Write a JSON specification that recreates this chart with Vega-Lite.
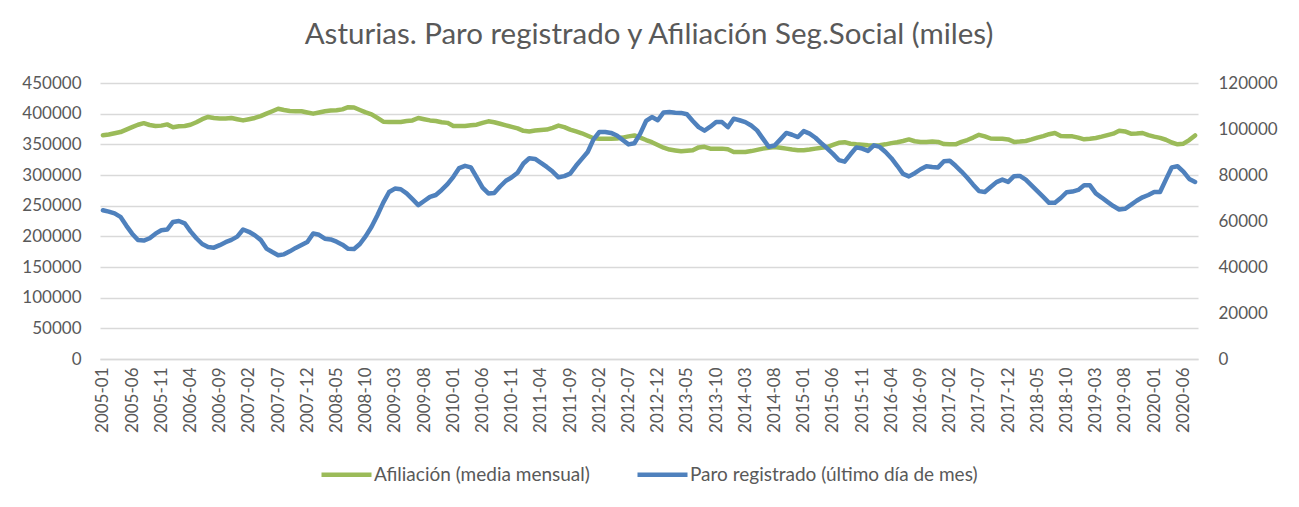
{
  "$schema": "https://vega.github.io/schema/vega-lite/v6.json",
  "width": 1098,
  "height": 276,
  "autosize": {"type": "none"},
  "padding": {"left": 100, "top": 83, "right": 101, "bottom": 148},
  "background": "white",
  "config": {
    "font": "Lato",
    "view": {"stroke": null},
    "axis": {"labelFont": "Lato", "labelColor": "#595959", "labelFontSize": 17, "ticks": false, "domain": false, "title": null}
  },
  "title": {
    "text": "Asturias. Paro registrado y Afiliación Seg.Social (miles)",
    "font": "Lato",
    "fontSize": 29.5,
    "fontWeight": "normal",
    "color": "#595959",
    "anchor": "middle",
    "frame": "group",
    "baseline": "alphabetic",
    "offset": 1
  },
  "data": {"values": [
    {"mes":"2005-01","afiliacion":364700,"paro":64700},
    {"mes":"2005-02","afiliacion":366000,"paro":64100},
    {"mes":"2005-03","afiliacion":368000,"paro":63300},
    {"mes":"2005-04","afiliacion":370000,"paro":61800},
    {"mes":"2005-05","afiliacion":374000,"paro":58000},
    {"mes":"2005-06","afiliacion":378000,"paro":54500},
    {"mes":"2005-07","afiliacion":382000,"paro":51700},
    {"mes":"2005-08","afiliacion":384500,"paro":51500},
    {"mes":"2005-09","afiliacion":381500,"paro":52500},
    {"mes":"2005-10","afiliacion":380000,"paro":54500},
    {"mes":"2005-11","afiliacion":380500,"paro":56000},
    {"mes":"2005-12","afiliacion":382500,"paro":56300},
    {"mes":"2006-01","afiliacion":378000,"paro":59600},
    {"mes":"2006-02","afiliacion":379500,"paro":60000},
    {"mes":"2006-03","afiliacion":380000,"paro":59000},
    {"mes":"2006-04","afiliacion":382000,"paro":55500},
    {"mes":"2006-05","afiliacion":386000,"paro":52500},
    {"mes":"2006-06","afiliacion":391000,"paro":50000},
    {"mes":"2006-07","afiliacion":394600,"paro":48700},
    {"mes":"2006-08","afiliacion":393000,"paro":48400},
    {"mes":"2006-09","afiliacion":392000,"paro":49500},
    {"mes":"2006-10","afiliacion":392000,"paro":50800},
    {"mes":"2006-11","afiliacion":393000,"paro":51800},
    {"mes":"2006-12","afiliacion":391000,"paro":53200},
    {"mes":"2007-01","afiliacion":389000,"paro":56300},
    {"mes":"2007-02","afiliacion":391000,"paro":55300},
    {"mes":"2007-03","afiliacion":393000,"paro":53800},
    {"mes":"2007-04","afiliacion":396000,"paro":51800},
    {"mes":"2007-05","afiliacion":400000,"paro":48000},
    {"mes":"2007-06","afiliacion":404000,"paro":46500},
    {"mes":"2007-07","afiliacion":408000,"paro":45100},
    {"mes":"2007-08","afiliacion":406000,"paro":45500},
    {"mes":"2007-09","afiliacion":404400,"paro":46800},
    {"mes":"2007-10","afiliacion":404000,"paro":48300},
    {"mes":"2007-11","afiliacion":404000,"paro":49600},
    {"mes":"2007-12","afiliacion":402000,"paro":50900},
    {"mes":"2008-01","afiliacion":400000,"paro":54600},
    {"mes":"2008-02","afiliacion":402000,"paro":54000},
    {"mes":"2008-03","afiliacion":404000,"paro":52300},
    {"mes":"2008-04","afiliacion":405000,"paro":52000},
    {"mes":"2008-05","afiliacion":405500,"paro":51000},
    {"mes":"2008-06","afiliacion":407000,"paro":49700},
    {"mes":"2008-07","afiliacion":410500,"paro":47900},
    {"mes":"2008-08","afiliacion":410000,"paro":47800},
    {"mes":"2008-09","afiliacion":406000,"paro":50000},
    {"mes":"2008-10","afiliacion":402000,"paro":53400},
    {"mes":"2008-11","afiliacion":399000,"paro":57500},
    {"mes":"2008-12","afiliacion":393000,"paro":62500},
    {"mes":"2009-01","afiliacion":387000,"paro":68000},
    {"mes":"2009-02","afiliacion":386500,"paro":72600},
    {"mes":"2009-03","afiliacion":386500,"paro":74100},
    {"mes":"2009-04","afiliacion":386500,"paro":73800},
    {"mes":"2009-05","afiliacion":388000,"paro":72000},
    {"mes":"2009-06","afiliacion":389000,"paro":69500},
    {"mes":"2009-07","afiliacion":393000,"paro":66900},
    {"mes":"2009-08","afiliacion":391000,"paro":68700},
    {"mes":"2009-09","afiliacion":389000,"paro":70500},
    {"mes":"2009-10","afiliacion":388000,"paro":71300},
    {"mes":"2009-11","afiliacion":386000,"paro":73500},
    {"mes":"2009-12","afiliacion":385000,"paro":76000},
    {"mes":"2010-01","afiliacion":380000,"paro":79200},
    {"mes":"2010-02","afiliacion":380000,"paro":83000},
    {"mes":"2010-03","afiliacion":380000,"paro":84000},
    {"mes":"2010-04","afiliacion":381000,"paro":83300},
    {"mes":"2010-05","afiliacion":382000,"paro":79000},
    {"mes":"2010-06","afiliacion":385000,"paro":74500},
    {"mes":"2010-07","afiliacion":387500,"paro":72000},
    {"mes":"2010-08","afiliacion":386000,"paro":72200},
    {"mes":"2010-09","afiliacion":383500,"paro":75000},
    {"mes":"2010-10","afiliacion":381000,"paro":77500},
    {"mes":"2010-11","afiliacion":378500,"paro":79000},
    {"mes":"2010-12","afiliacion":376000,"paro":81000},
    {"mes":"2011-01","afiliacion":372000,"paro":85000},
    {"mes":"2011-02","afiliacion":371000,"paro":87300},
    {"mes":"2011-03","afiliacion":372500,"paro":87000},
    {"mes":"2011-04","afiliacion":373500,"paro":85300},
    {"mes":"2011-05","afiliacion":374000,"paro":83500},
    {"mes":"2011-06","afiliacion":377000,"paro":81500},
    {"mes":"2011-07","afiliacion":380500,"paro":79000},
    {"mes":"2011-08","afiliacion":378000,"paro":79500},
    {"mes":"2011-09","afiliacion":374000,"paro":80600},
    {"mes":"2011-10","afiliacion":371000,"paro":84000},
    {"mes":"2011-11","afiliacion":368000,"paro":87000},
    {"mes":"2011-12","afiliacion":364000,"paro":90000},
    {"mes":"2012-01","afiliacion":360000,"paro":95500},
    {"mes":"2012-02","afiliacion":359000,"paro":98700},
    {"mes":"2012-03","afiliacion":359000,"paro":98700},
    {"mes":"2012-04","afiliacion":359000,"paro":98300},
    {"mes":"2012-05","afiliacion":359500,"paro":97200},
    {"mes":"2012-06","afiliacion":361000,"paro":95200},
    {"mes":"2012-07","afiliacion":363000,"paro":93300},
    {"mes":"2012-08","afiliacion":364500,"paro":93800},
    {"mes":"2012-09","afiliacion":361000,"paro":98000},
    {"mes":"2012-10","afiliacion":357000,"paro":103500},
    {"mes":"2012-11","afiliacion":353500,"paro":105200},
    {"mes":"2012-12","afiliacion":349000,"paro":103800},
    {"mes":"2013-01","afiliacion":344500,"paro":107200},
    {"mes":"2013-02","afiliacion":341500,"paro":107400},
    {"mes":"2013-03","afiliacion":340000,"paro":107100},
    {"mes":"2013-04","afiliacion":338600,"paro":107000},
    {"mes":"2013-05","afiliacion":339500,"paro":106400},
    {"mes":"2013-06","afiliacion":340500,"paro":103500},
    {"mes":"2013-07","afiliacion":345000,"paro":100800},
    {"mes":"2013-08","afiliacion":346000,"paro":99300},
    {"mes":"2013-09","afiliacion":343000,"paro":101000},
    {"mes":"2013-10","afiliacion":343000,"paro":103000},
    {"mes":"2013-11","afiliacion":343000,"paro":103000},
    {"mes":"2013-12","afiliacion":342000,"paro":100800},
    {"mes":"2014-01","afiliacion":337600,"paro":104500},
    {"mes":"2014-02","afiliacion":337600,"paro":103800},
    {"mes":"2014-03","afiliacion":337600,"paro":103000},
    {"mes":"2014-04","afiliacion":339000,"paro":101500},
    {"mes":"2014-05","afiliacion":341000,"paro":99400},
    {"mes":"2014-06","afiliacion":343000,"paro":95800},
    {"mes":"2014-07","afiliacion":344500,"paro":92300},
    {"mes":"2014-08","afiliacion":345500,"paro":92800},
    {"mes":"2014-09","afiliacion":344500,"paro":95500},
    {"mes":"2014-10","afiliacion":343000,"paro":98300},
    {"mes":"2014-11","afiliacion":341500,"paro":97500},
    {"mes":"2014-12","afiliacion":340500,"paro":96500},
    {"mes":"2015-01","afiliacion":340500,"paro":99100},
    {"mes":"2015-02","afiliacion":341500,"paro":98000},
    {"mes":"2015-03","afiliacion":343000,"paro":96200},
    {"mes":"2015-04","afiliacion":344500,"paro":93800},
    {"mes":"2015-05","afiliacion":345500,"paro":91600},
    {"mes":"2015-06","afiliacion":349000,"paro":89200},
    {"mes":"2015-07","afiliacion":352500,"paro":86500},
    {"mes":"2015-08","afiliacion":353500,"paro":85800},
    {"mes":"2015-09","afiliacion":351000,"paro":89000},
    {"mes":"2015-10","afiliacion":350000,"paro":92000},
    {"mes":"2015-11","afiliacion":349500,"paro":91500},
    {"mes":"2015-12","afiliacion":348500,"paro":90500},
    {"mes":"2016-01","afiliacion":348000,"paro":92900},
    {"mes":"2016-02","afiliacion":348500,"paro":92200},
    {"mes":"2016-03","afiliacion":350000,"paro":90000},
    {"mes":"2016-04","afiliacion":352000,"paro":87300},
    {"mes":"2016-05","afiliacion":353500,"paro":84000},
    {"mes":"2016-06","afiliacion":355500,"paro":80500},
    {"mes":"2016-07","afiliacion":358000,"paro":79400},
    {"mes":"2016-08","afiliacion":355000,"paro":80800},
    {"mes":"2016-09","afiliacion":353800,"paro":82500},
    {"mes":"2016-10","afiliacion":354000,"paro":83800},
    {"mes":"2016-11","afiliacion":354500,"paro":83500},
    {"mes":"2016-12","afiliacion":354000,"paro":83300},
    {"mes":"2017-01","afiliacion":350500,"paro":86000},
    {"mes":"2017-02","afiliacion":350000,"paro":86200},
    {"mes":"2017-03","afiliacion":350000,"paro":84000},
    {"mes":"2017-04","afiliacion":354000,"paro":81500},
    {"mes":"2017-05","afiliacion":357000,"paro":78800},
    {"mes":"2017-06","afiliacion":361000,"paro":75800},
    {"mes":"2017-07","afiliacion":365500,"paro":73000},
    {"mes":"2017-08","afiliacion":363000,"paro":72600},
    {"mes":"2017-09","afiliacion":359500,"paro":74800},
    {"mes":"2017-10","afiliacion":359200,"paro":76900},
    {"mes":"2017-11","afiliacion":359200,"paro":78000},
    {"mes":"2017-12","afiliacion":358000,"paro":77000},
    {"mes":"2018-01","afiliacion":354000,"paro":79500},
    {"mes":"2018-02","afiliacion":354500,"paro":79600},
    {"mes":"2018-03","afiliacion":355500,"paro":78000},
    {"mes":"2018-04","afiliacion":358000,"paro":75500},
    {"mes":"2018-05","afiliacion":361000,"paro":73000},
    {"mes":"2018-06","afiliacion":363500,"paro":70500},
    {"mes":"2018-07","afiliacion":366500,"paro":67900},
    {"mes":"2018-08","afiliacion":368500,"paro":67900},
    {"mes":"2018-09","afiliacion":363500,"paro":70000},
    {"mes":"2018-10","afiliacion":363000,"paro":72500},
    {"mes":"2018-11","afiliacion":363000,"paro":72800},
    {"mes":"2018-12","afiliacion":361000,"paro":73500},
    {"mes":"2019-01","afiliacion":358200,"paro":75500},
    {"mes":"2019-02","afiliacion":359000,"paro":75500},
    {"mes":"2019-03","afiliacion":360400,"paro":72000},
    {"mes":"2019-04","afiliacion":362500,"paro":70200},
    {"mes":"2019-05","afiliacion":365000,"paro":68300},
    {"mes":"2019-06","afiliacion":367400,"paro":66500},
    {"mes":"2019-07","afiliacion":372000,"paro":65000},
    {"mes":"2019-08","afiliacion":371000,"paro":65300},
    {"mes":"2019-09","afiliacion":367400,"paro":67000},
    {"mes":"2019-10","afiliacion":367800,"paro":68800},
    {"mes":"2019-11","afiliacion":368500,"paro":70300},
    {"mes":"2019-12","afiliacion":365000,"paro":71300},
    {"mes":"2020-01","afiliacion":362500,"paro":72600},
    {"mes":"2020-02","afiliacion":360500,"paro":72600},
    {"mes":"2020-03","afiliacion":357500,"paro":78000},
    {"mes":"2020-04","afiliacion":353000,"paro":83300},
    {"mes":"2020-05","afiliacion":350000,"paro":83800},
    {"mes":"2020-06","afiliacion":351000,"paro":81500},
    {"mes":"2020-07","afiliacion":357000,"paro":78300},
    {"mes":"2020-08","afiliacion":364500,"paro":77000}
  ]},
  "encoding": {
    "x": {
      "field": "mes",
      "type": "ordinal",
      "sort": null,
      "scale": {"type": "point", "padding": 0.5},
      "axis": {
        "values": ["2005-01","2005-06","2005-11","2006-04","2006-09","2007-02","2007-07","2007-12","2008-05","2008-10","2009-03","2009-08","2010-01","2010-06","2010-11","2011-04","2011-09","2012-02","2012-07","2012-12","2013-05","2013-10","2014-03","2014-08","2015-01","2015-06","2015-11","2016-04","2016-09","2017-02","2017-07","2017-12","2018-05","2018-10","2019-03","2019-08","2020-01","2020-06"],
        "labelAngle": -90,
        "labelPadding": 8,
        "domain": true,
        "domainColor": "#d9d9d9",
        "domainWidth": 1.5,
        "grid": false,
        "labelOverlap": false
      }
    },
    "color": {
      "type": "nominal",
      "scale": {
        "domain": ["Afiliación (media mensual)", "Paro registrado (último día de mes)"],
        "range": ["#9BBB59", "#4F81BD"]
      },
      "legend": {
        "title": null,
        "orient": "none",
        "direction": "horizontal",
        "legendX": 219,
        "legendY": 364,
        "symbolType": "stroke",
        "symbolSize": 2500,
        "symbolStrokeWidth": 4.5,
        "labelFont": "Lato",
        "labelFontSize": 19,
        "labelColor": "#595959",
        "labelOffset": 0,
        "columnPadding": 38,
        "labelLimit": 400
      }
    }
  },
  "layer": [
    {
      "mark": {"type": "line", "strokeWidth": 4.5, "strokeCap": "round", "strokeJoin": "round"},
      "encoding": {
        "y": {
          "field": "afiliacion",
          "type": "quantitative",
          "scale": {"domain": [0, 450000], "nice": false},
          "axis": {
            "orient": "left",
            "values": [0, 50000, 100000, 150000, 200000, 250000, 300000, 350000, 400000, 450000],
            "format": "d",
            "grid": true,
            "gridColor": "#d9d9d9",
            "gridWidth": 1.5,
            "labelPadding": 19
          }
        },
        "color": {"datum": "Afiliación (media mensual)"}
      }
    },
    {
      "mark": {"type": "line", "strokeWidth": 4.5, "strokeCap": "round", "strokeJoin": "round"},
      "encoding": {
        "y": {
          "field": "paro",
          "type": "quantitative",
          "scale": {"domain": [0, 120000], "nice": false},
          "axis": {
            "orient": "right",
            "values": [0, 20000, 40000, 60000, 80000, 100000, 120000],
            "format": "d",
            "grid": false,
            "labelPadding": 20
          }
        },
        "color": {"datum": "Paro registrado (último día de mes)"}
      }
    }
  ],
  "resolve": {"scale": {"y": "independent"}}
}
